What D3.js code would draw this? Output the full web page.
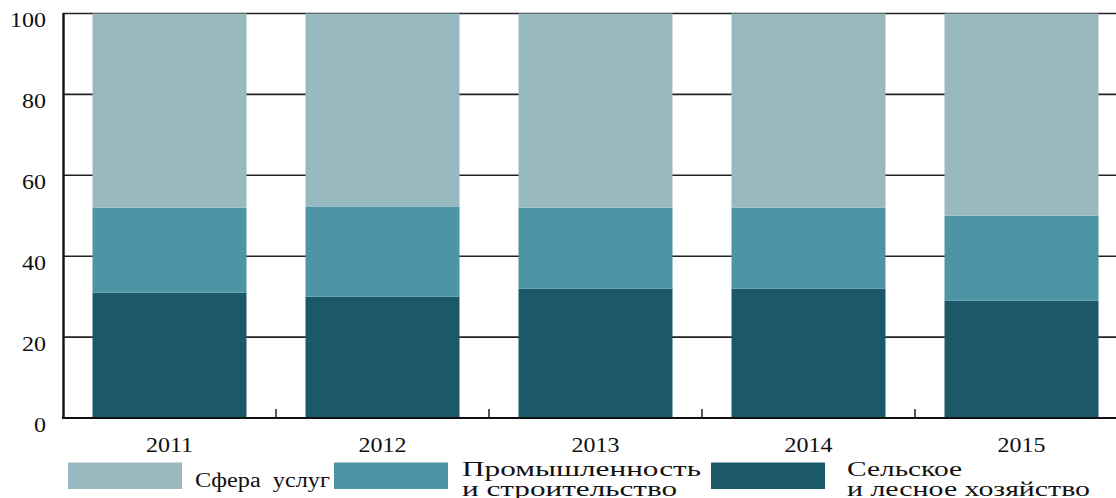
<!DOCTYPE html>
<html>
<head>
<meta charset="utf-8">
<script src="https://cdn.jsdelivr.net/npm/d3@7"></script>
<style>
  html, body { margin: 0; padding: 0; background: #fff; }
  svg { display: block; }
</style>
</head>
<body>
<svg id="chart" width="1116" height="498"></svg>
<script>
const years = ["2011", "2012", "2013", "2014", "2015"];
const agriculture = [31, 30, 32, 32, 29];
const industry = [21, 22.3, 20, 20, 21];
const services = [48, 47.7, 48, 48, 50];
const yTicks = [0, 20, 40, 60, 80, 100];
const seriesNames = ["Сфера  услуг", "Промышленность|и строительство", "Сельское|и лесное хозяйство"];
const colors = { agriculture: "#1b5968", industry: "#4d95a5", services: "#99b9c0" };
const FONT = "'Liberation Serif', 'Times New Roman', 'DejaVu Serif', serif";
const SX = 1.2;

const svg = d3.select("#chart");
const x = d3.scaleBand().domain(years).range([63, 1128]).paddingInner(0.277).paddingOuter(0.1385);
const y = d3.scaleLinear().domain([0, 100]).range([418, 13.5]);

svg.append("g").selectAll("line").data(yTicks.filter(d => d > 0)).join("line")
  .attr("x1", 63).attr("x2", 1116)
  .attr("y1", d => y(d)).attr("y2", d => y(d))
  .attr("stroke", "#222").attr("stroke-width", 1.6);

const rows = years.map((yr, i) => ({ year: yr, agriculture: agriculture[i], industry: industry[i], services: services[i] }));
const keys = ["agriculture", "industry", "services"];
const stack = d3.stack().keys(keys)(rows);
svg.append("g").selectAll("g").data(stack).join("g")
  .attr("fill", d => colors[d.key])
  .selectAll("rect").data(d => d).join("rect")
  .attr("x", d => x(d.data.year))
  .attr("width", x.bandwidth())
  .attr("y", d => y(d[1]))
  .attr("height", d => y(d[0]) - y(d[1]));

const bounds = years.slice(1).map(yr => x(yr) - x.step() * x.paddingInner() / 2);
svg.append("g").selectAll("line").data(bounds).join("line")
  .attr("x1", d => d).attr("x2", d => d)
  .attr("y1", 409).attr("y2", 418)
  .attr("stroke", "#222").attr("stroke-width", 1.5);

svg.append("line").attr("x1", 62).attr("x2", 1116).attr("y1", y(0)).attr("y2", y(0))
  .attr("stroke", "#111").attr("stroke-width", 2.2);
svg.append("line").attr("x1", 63.5).attr("x2", 63.5).attr("y1", y(100) - 0.5).attr("y2", y(0) + 1)
  .attr("stroke", "#111").attr("stroke-width", 2.4);

function txt(g) {
  return g.attr("font-family", FONT).attr("font-size", 20).attr("fill", "#111");
}
function at(px, py) { return `translate(${px},${py}) scale(${SX},1)`; }

svg.append("g").selectAll("text").data(yTicks).join("text")
  .attr("transform", d => at(46, y(d) + 13.5))
  .attr("text-anchor", "end")
  .call(txt)
  .text(d => d);

svg.append("g").selectAll("text").data(years).join("text")
  .attr("transform", d => at(x(d) + x.bandwidth() / 2, 452))
  .attr("text-anchor", "middle")
  .call(txt)
  .text(d => d);

// legend: text widths matched to the reference
const legendItems = [
  { name: seriesNames[0], color: colors.services, sx: 68, tx: 195, widths: [135] },
  { name: seriesNames[1], color: colors.industry, sx: 334, tx: 462, widths: [239, 215] },
  { name: seriesNames[2], color: colors.agriculture, sx: 711, tx: 847, widths: [115, 243] }
];
const lg = svg.append("g");
legendItems.forEach(it => {
  lg.append("rect").attr("x", it.sx).attr("y", 462.5).attr("width", 114).attr("height", 26.5).attr("fill", it.color);
  const lines = it.name.split("|");
  lines.forEach((ln, j) => {
    const yy = lines.length === 1 ? 487 : 476 + j * 20;
    lg.append("text").attr("x", it.tx).attr("y", yy).call(txt)
      .attr("xml:space", "preserve").style("white-space", "pre")
      .attr("textLength", it.widths[j]).attr("lengthAdjust", "spacingAndGlyphs")
      .text(ln);
  });
});
</script>
</body>
</html>
